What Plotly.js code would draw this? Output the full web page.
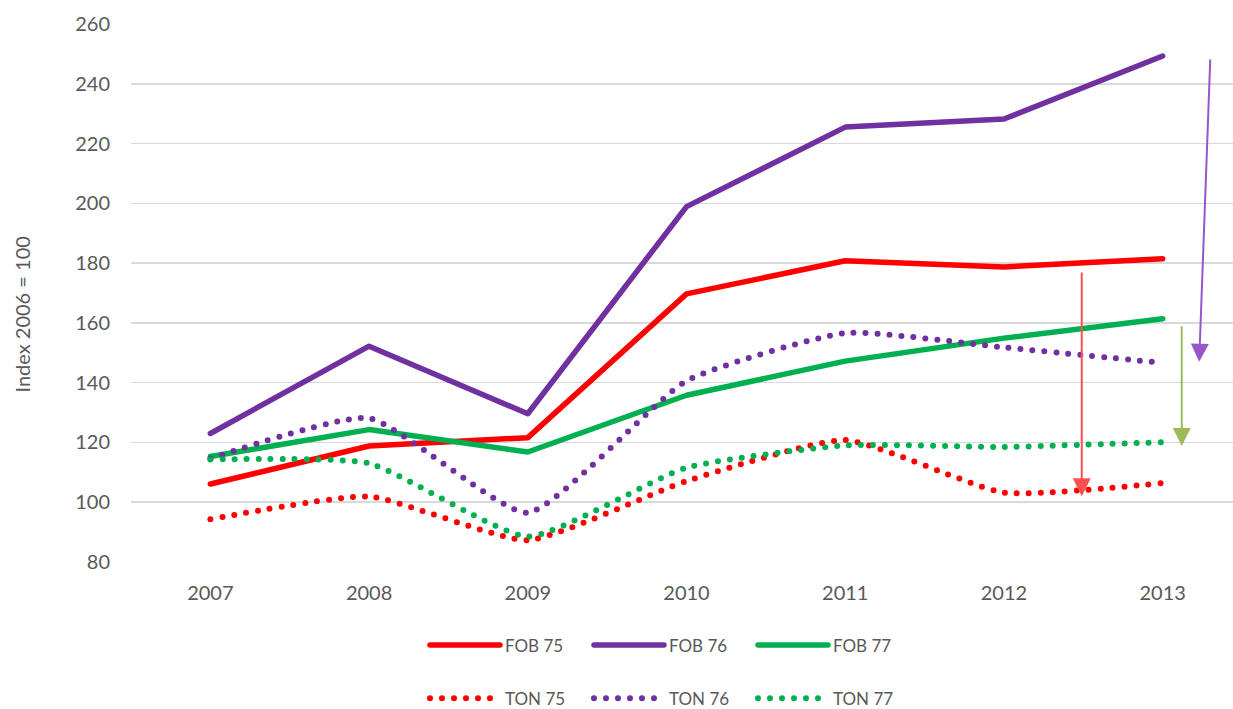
<!DOCTYPE html>
<html>
<head>
<meta charset="utf-8">
<script src="https://cdn.plot.ly/plotly-3.0.1.min.js"></script>
<style>
  html, body { margin: 0; padding: 0; background: #fff; }
  #chart { width: 1233px; height: 709px; }
  path.js-line { stroke-linecap: round; stroke-linejoin: round; }
</style>
</head>
<body>
<div id="chart"></div>
<script>
const years = ['2007', '2008', '2009', '2010', '2011', '2012', '2013'];

const fob75 = [106.1, 118.8, 121.6, 169.7, 180.8, 178.7, 181.5];
const fob76 = [123.0, 152.2, 129.6, 198.9, 225.5, 228.2, 249.3];
const fob77 = [115.3, 124.3, 116.8, 135.8, 147.2, 154.9, 161.4];
const ton75 = [94.3, 101.9, 87.3, 107.1, 120.8, 103.2, 106.4];
const ton76 = [114.6, 128.1, 96.5, 140.6, 156.6, 151.8, 146.6];
const ton77 = [114.3, 113.0, 88.5, 111.6, 119.0, 118.5, 120.1];

const seriesNames = ['FOB 75', 'FOB 76', 'FOB 77', 'TON 75', 'TON 76', 'TON 77'];

// Arrow annotations (category index, value): tail -> tip
const arrowPurple = { x: 6.23, y: 147.0, ax: 6.30, ay: 248.6 };
const arrowRed = { x: 5.49, y: 102.0, ax: 5.49, ay: 177.4 };
const arrowGreen = { x: 6.12, y: 118.8, ax: 6.12, ay: 159.4 };

const RED = '#FF0000', PURPLE = '#7030A0', GREEN = '#00B050';
const TXT = '#595959';
const FONT = 'Lato, "Open Sans", sans-serif';

function solid(name, y, color) {
  return { type: 'scatter', mode: 'lines', name: name, x: years, y: y,
    line: { color: color, width: 5.5 }, legend: 'legend', hoverinfo: 'skip' };
}
function dotted(name, y, color) {
  return { type: 'scatter', mode: 'lines', name: name, x: years, y: y,
    line: { color: color, width: 6, dash: '0px,12px', shape: 'spline', smoothing: 0.5 },
    legend: 'legend2', hoverinfo: 'skip' };
}

const data = [
  solid(seriesNames[0], fob75, RED),
  solid(seriesNames[1], fob76, PURPLE),
  solid(seriesNames[2], fob77, GREEN),
  dotted(seriesNames[3], ton75, RED),
  dotted(seriesNames[4], ton76, PURPLE),
  dotted(seriesNames[5], ton77, GREEN)
];

function arrow(a, color) {
  return { x: a.x, y: a.y, ax: a.ax, ay: a.ay, xref: 'x', yref: 'y', axref: 'x', ayref: 'y',
    showarrow: true, arrowhead: 2, arrowsize: 1.8, arrowwidth: 2, arrowcolor: color, text: '', standoff: 0 };
}

const legendCommon = {
  orientation: 'h', xanchor: 'center', yanchor: 'middle', x: 0.49,
  font: { family: FONT, size: 17, color: TXT }, itemwidth: 70, entrywidth: 79,
  bgcolor: 'rgba(0,0,0,0)', tracegroupgap: 0
};

const layout = {
  width: 1233, height: 709,
  margin: { l: 131, r: 0, t: 24, b: 147, autoexpand: false },
  paper_bgcolor: '#ffffff', plot_bgcolor: '#ffffff',
  font: { family: FONT, size: 20, color: TXT },
  showlegend: true,
  xaxis: {
    type: 'category', range: [-0.5, 6.443], showgrid: false, zeroline: false,
    showline: false, ticks: '', ticklabelstandoff: 17, automargin: false,
    tickfont: { family: FONT, size: 20, color: TXT }, fixedrange: true
  },
  yaxis: {
    range: [80, 260], dtick: 20, tick0: 80, showgrid: true, gridcolor: '#D9D9D9', gridwidth: 1.5,
    zeroline: false, showline: false, ticks: '', ticklabelstandoff: 20, automargin: false,
    tickfont: { family: FONT, size: 20, color: TXT }, fixedrange: true
  },
  legend: Object.assign({}, legendCommon, { y: -0.155 }),
  legend2: Object.assign({}, legendCommon, { y: -0.254 }),
  annotations: [
    arrow(arrowPurple, '#9955CC'),
    arrow(arrowRed, '#FF5050'),
    arrow(arrowGreen, '#9BBB59'),
    { text: 'Index 2006 = 100', textangle: -90, xref: 'paper', yref: 'paper',
      x: -0.0989, y: 0.46, xanchor: 'center', yanchor: 'middle', showarrow: false,
      font: { family: FONT, size: 20, color: TXT } }
  ]
};

Plotly.newPlot('chart', data, layout, { displayModeBar: false, staticPlot: true });
</script>
</body>
</html>
